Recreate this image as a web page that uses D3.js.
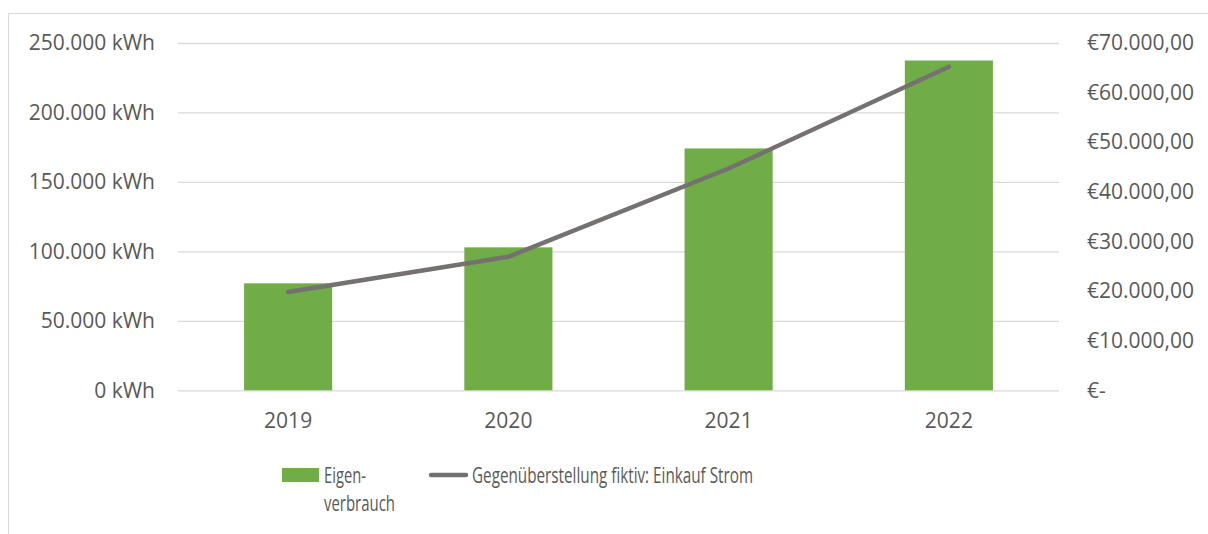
<!DOCTYPE html>
<html>
<head>
<meta charset="utf-8">
<script src="https://cdn.jsdelivr.net/npm/d3@7"></script>
<style>
  body { margin: 0; background: #fff; }
  svg { display: block; }
  .tick text { fill: #595959; font-family: "Open Sans", sans-serif; font-size: 21px; }
  .legend text { fill: #595959; font-family: "Open Sans", sans-serif; font-size: 21.5px; }
</style>
</head>
<body>
<svg id="chart" width="1208" height="534"></svg>
<script>
const years = ['2019', '2020', '2021', '2022']
const eigenverbrauch = [77000, 102900, 174100, 237400]
const einkaufStrom = [19800, 26900, 44700, 65200]
const kwhTicks = [0, 50000, 100000, 150000, 200000, 250000]
const euroTicks = [0, 10000, 20000, 30000, 40000, 50000, 60000, 70000]

const plot = { left: 178, right: 1059, top: 43, bottom: 390.3 }

const de = d3.formatLocale({ decimal: ',', thousands: '.', grouping: [3], currency: ['€', ''] })
const fmtKwh = (d) => `${de.format(',')(d)} kWh`
const fmtEuro = (d) => d === 0 ? '€-' : `€${de.format(',.2f')(d)}`

const svg = d3.select('#chart')

// chart frame
svg.append('rect')
    .attr('x', 8.5).attr('y', 13.5)
    .attr('width', 1300).attr('height', 600)
    .attr('fill', 'none')
    .attr('stroke', '#d9d9d9');

const x = d3.scaleBand()
    .domain(years)
    .range([plot.left, plot.right])
    .paddingInner(0.6)
    .paddingOuter(0.3)

const yLeft = d3.scaleLinear().domain([0, 250000]).range([plot.bottom, plot.top])
const yRight = d3.scaleLinear().domain([0, 70000]).range([plot.bottom, plot.top])

// gridlines
svg.append('g')
    .attr('transform', `translate(${plot.left},0)`)
    .call(d3.axisLeft(yLeft).tickValues(kwhTicks).tickSize(-(plot.right - plot.left)).tickFormat(''))
    .call(g => g.select('.domain').remove())
    .call(g => g.selectAll('line').attr('stroke', '#d9d9d9').attr('stroke-width', 1.3));

// left axis labels
svg.append('g')
    .attr('transform', `translate(${plot.left},0)`)
    .call(d3.axisLeft(yLeft).tickValues(kwhTicks).tickSize(0).tickPadding(23).tickFormat(fmtKwh))
    .call(g => g.select('.domain').remove());

// right axis labels
svg.append('g')
    .attr('transform', `translate(${plot.right},0)`)
    .call(d3.axisRight(yRight).tickValues(euroTicks).tickSize(0).tickPadding(28).tickFormat(fmtEuro))
    .call(g => g.select('.domain').remove());

// bars
svg.append('g').selectAll('rect')
    .data(years)
    .enter().append('rect')
    .attr('x', d => x(d))
    .attr('y', (d, i) => yLeft(eigenverbrauch[i]))
    .attr('width', x.bandwidth())
    .attr('height', (d, i) => plot.bottom - yLeft(eigenverbrauch[i]))
    .attr('fill', '#70ad47');

// category axis
svg.append('g')
    .attr('transform', `translate(0,${plot.bottom})`)
    .call(d3.axisBottom(x).tickSize(0).tickPadding(23))
    .call(g => g.select('.domain').remove());

// line series
const line = d3.line()
    .x(d => x(d.year) + x.bandwidth() / 2)
    .y(d => yRight(d.value))

svg.append('path')
    .datum(years.map((year, i) => ({ year, value: einkaufStrom[i] })))
    .attr('d', line)
    .attr('fill', 'none')
    .attr('stroke', '#767171')
    .attr('stroke-width', 4.5)
    .attr('stroke-linecap', 'round')
    .attr('stroke-linejoin', 'round');

// legend (narrow font in the original, so squeeze the text a little)
const legend = svg.append('g').attr('class', 'legend')

legend.append('rect')
    .attr('x', 282).attr('y', 468)
    .attr('width', 37).attr('height', 14)
    .attr('fill', '#70ad47');

legend.append('text').attr('x', 324).attr('y', 483)
    .attr('textLength', 42).attr('lengthAdjust', 'spacingAndGlyphs')
    .text('Eigen-')
legend.append('text').attr('x', 324).attr('y', 511)
    .attr('textLength', 71).attr('lengthAdjust', 'spacingAndGlyphs')
    .text('verbrauch')

legend.append('line')
    .attr('x1', 431).attr('x2', 466)
    .attr('y1', 475).attr('y2', 475)
    .attr('stroke', '#767171')
    .attr('stroke-width', 4.5)
    .attr('stroke-linecap', 'round');

legend.append('text').attr('x', 472).attr('y', 483)
    .attr('textLength', 281).attr('lengthAdjust', 'spacingAndGlyphs')
    .text('Gegenüberstellung fiktiv: Einkauf Strom')
</script>
</body>
</html>
